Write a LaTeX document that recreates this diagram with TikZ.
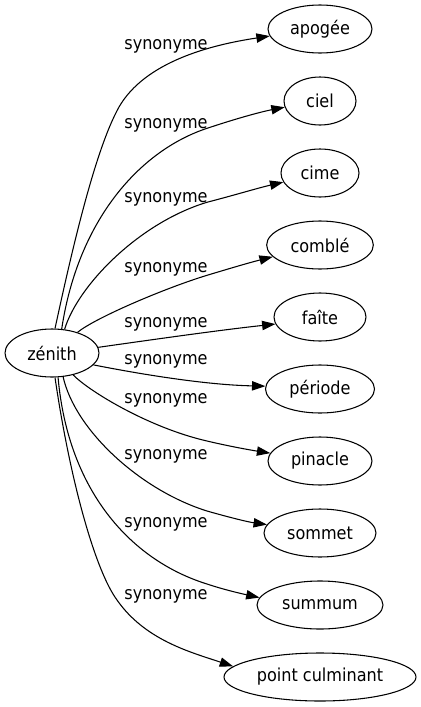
\documentclass[tikz,border=0pt]{standalone}
\usepackage{fontspec}
\setmainfont{DejaVu Sans Condensed}
\usetikzlibrary{shapes.geometric,arrows.meta}
\begin{document}
\begin{tikzpicture}[x=0.75pt,y=-0.75pt,
  ent/.style={ellipse, draw, line width=0.8pt, inner sep=0pt, minimum height=36pt, font=\fontsize{13.4}{16}\selectfont},
  lab/.style={inner sep=0pt, font=\fontsize{13.4}{16}\selectfont},
  rel/.style={draw, line width=0.8pt, -{Triangle[length=10pt,width=7pt]}}]
\useasboundingbox (0,0) rectangle (421,707);
\node[ent, minimum width=70.5pt] (z) at (52,353) {zénith};
\node[ent, minimum width=78pt] (apogee) at (320,29) {apogée};
\node[ent, minimum width=54pt] (ciel) at (320,101) {ciel};
\node[ent, minimum width=58.5pt] (cime) at (320,173) {cime};
\node[ent, minimum width=80pt] (comble) at (320,245) {comblé};
\node[ent, minimum width=69pt] (faite) at (320,317) {faîte};
\node[ent, minimum width=81.75pt] (periode) at (320,389) {période};
\node[ent, minimum width=78pt] (pinacle) at (320,461) {pinacle};
\node[ent, minimum width=84pt] (sommet) at (320,533) {sommet};
\node[ent, minimum width=94.5pt] (summum) at (320,605) {summum};
\node[ent, minimum width=144pt] (pc) at (320,677) {point culminant};

\node[lab] (l1) at (166,46) {synonyme};
\node[lab] (l2) at (166,125) {synonyme};
\node[lab] (l3) at (166,199) {synonyme};
\node[lab] (l4) at (166,269) {synonyme};
\node[lab] (l5) at (166,324) {synonyme};
\node[lab] (l6) at (166,361) {synonyme};
\node[lab] (l7) at (166,400) {synonyme};
\node[lab] (l8) at (166,456.5) {synonyme};
\node[lab] (l9) at (166,524) {synonyme};
\node[lab] (l10) at (166,596) {synonyme};

\path[rel] (z.83) .. controls (72,250) and (95,150) .. (119,107) .. controls (145,62) and (210,45) .. (apogee.188);
\path[rel] (z.68) .. controls (78,220) and (140,150) .. (208,128) .. controls (235,119) and (260,112) .. (ciel.190);
\path[rel] (z.62) .. controls (78,285) and (140,222) .. (208,202) .. controls (235,195) and (258,188) .. (cime.194);
\path[rel] (z.39) .. controls (95,318) and (165,288) .. (208,275) .. controls (228,269) and (248,263) .. (comble.194);
\path[rel] (z.7) .. controls (150,340) and (220,330) .. (faite.189);
\path[rel] (z.-16) .. controls (150,376) and (210,385) .. (periode.177);
\path[rel] (z.-46) .. controls (90,392) and (150,428) .. (207,441) .. controls (228,446) and (250,450) .. (pinacle.171);
\path[rel] (z.-65) .. controls (75,430) and (140,490) .. (207,511) .. controls (228,517) and (248,522) .. (sommet.171);
\path[rel] (z.-76) .. controls (68,490) and (130,560) .. (207,584) .. controls (225,590) and (243,594) .. (summum.173);
\path[rel] (z.-83) .. controls (70,480) and (95,570) .. (117,600) .. controls (145,640) and (190,652) .. (pc.173);
\end{tikzpicture}
\end{document}
